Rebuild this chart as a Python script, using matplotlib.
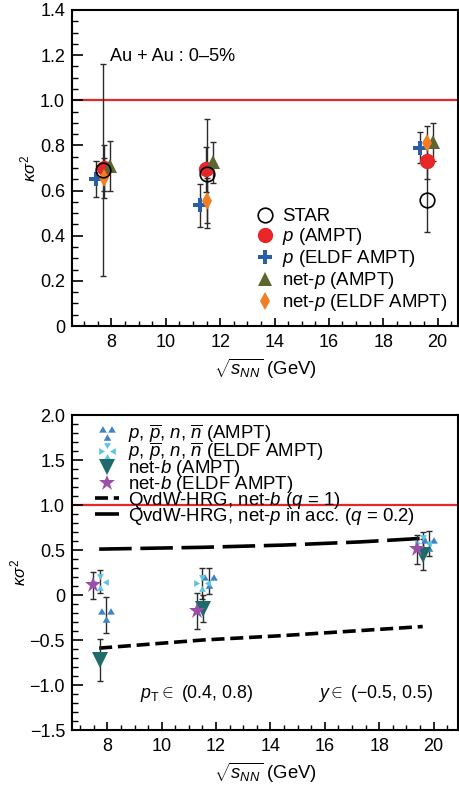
import matplotlib.pyplot as plt
import numpy as np
from matplotlib.path import Path
from matplotlib.ticker import MultipleLocator, FuncFormatter

plt.rcParams['font.family'] = ['Liberation Sans', 'DejaVu Sans']
plt.rcParams['mathtext.fontset'] = 'custom'
plt.rcParams['mathtext.rm'] = 'Liberation Sans'
plt.rcParams['mathtext.it'] = 'Liberation Sans:italic'
plt.rcParams['mathtext.bf'] = 'Liberation Sans:bold'

# ---- top panel: kappa sigma^2 of protons / net-protons ----
star_x = [7.7, 11.5, 19.6]
star_y = [0.69, 0.675, 0.56]
star_err = [0.47, 0.24, 0.145]

p_ampt_x = [7.72, 11.47, 19.6]
p_ampt_y = [0.70, 0.695, 0.73]
p_ampt_err = [0.10, 0.10, 0.08]

p_eldf_x = [7.45, 11.25, 19.36]
p_eldf_y = [0.65, 0.535, 0.79]
p_eldf_err = [0.08, 0.095, 0.07]

netp_ampt_x = [7.95, 11.74, 19.82]
netp_ampt_y = [0.71, 0.725, 0.815]
netp_ampt_err = [0.11, 0.09, 0.085]

netp_eldf_x = [7.72, 11.52, 19.6]
netp_eldf_y = [0.655, 0.555, 0.81]
netp_eldf_err = [0.09, 0.10, 0.075]

# ---- bottom panel: baryons / net-baryons ----
b_ampt_x = [7.94, 11.75, 19.84]
b_ampt_y = [-0.22, 0.155, 0.57]
b_ampt_err = [0.20, 0.14, 0.14]

b_eldf_x = [7.73, 11.5, 19.6]
b_eldf_y = [0.15, 0.13, 0.58]
b_eldf_err = [0.13, 0.17, 0.12]

netb_ampt_x = [7.72, 11.53, 19.6]
netb_ampt_y = [-0.72, -0.15, 0.45]
netb_ampt_err = [0.23, 0.15, 0.17]

netb_eldf_x = [7.47, 11.29, 19.4]
netb_eldf_y = [0.11, -0.175, 0.51]
netb_eldf_err = [0.15, 0.20, 0.16]

hrg_netb_x = [7.7, 11.5, 14.5, 19.6]
hrg_netb_y = [-0.59, -0.50, -0.45, -0.35]

hrg_netp_x = [7.7, 11.5, 14.5, 17.3, 19.6]
hrg_netp_y = [0.51, 0.53, 0.555, 0.59, 0.63]

RED = '#e8262a'
ERR = '#2b2b2b'


def triangle(cx, cy, s, direction):
    if direction == 'up':
        pts = [(cx - s, cy - s * 0.85), (cx + s, cy - s * 0.85), (cx, cy + s * 0.85)]
    elif direction == 'down':
        pts = [(cx - s, cy + s * 0.85), (cx + s, cy + s * 0.85), (cx, cy - s * 0.85)]
    elif direction == 'left':
        pts = [(cx + s * 0.85, cy - s), (cx + s * 0.85, cy + s), (cx - s * 0.85, cy)]
    else:
        pts = [(cx - s * 0.85, cy - s), (cx - s * 0.85, cy + s), (cx + s * 0.85, cy)]
    return pts


def cluster_marker(specs):
    verts, codes = [], []
    for cx, cy, s, d in specs:
        pts = triangle(cx, cy, s, d)
        verts += pts + [pts[0]]
        codes += [Path.MOVETO, Path.LINETO, Path.LINETO, Path.CLOSEPOLY]
    return Path(verts, codes)


ampt_cluster = cluster_marker([(-0.5, 0.45, 0.42, 'up'), (0.5, 0.45, 0.42, 'up'), (0.0, -0.45, 0.42, 'up')])
eldf_cluster = cluster_marker([(0.0, 0.6, 0.38, 'down'), (0.0, -0.6, 0.38, 'up'),
                               (-0.6, 0.0, 0.38, 'right'), (0.6, 0.0, 0.38, 'left')])


def ebar(ax, x, y, err, z=2):
    ax.errorbar(x, y, yerr=err, fmt='none', ecolor=ERR, elinewidth=1.0,
                capsize=2.2, capthick=1.0, zorder=z)


def style_axis(ax):
    for sp in ax.spines.values():
        sp.set_linewidth(1.5)
    ax.tick_params(which='both', direction='in', top=False, right=False, labelsize=13)
    ax.tick_params(axis='x', which='major', length=6, width=1.2, pad=6)
    ax.tick_params(axis='x', which='minor', length=3.5, width=1.0)
    ax.tick_params(axis='y', which='major', length=8, width=1.2, pad=5)
    ax.tick_params(axis='y', which='minor', length=4.5, width=1.0)
    ax.xaxis.set_major_locator(MultipleLocator(2))
    ax.xaxis.set_minor_locator(MultipleLocator(0.5))
    ax.set_xlabel(r'$\sqrt{s_{NN}}$ (GeV)', fontsize=13.3, labelpad=4)
    ax.set_ylabel(r'$\kappa\sigma^2$', fontsize=12, labelpad=1)


def yfmt(v, pos):
    if abs(v) < 1e-9:
        return '0'
    return ('%.1f' % v).replace('-', '\u2212')


fig = plt.figure(figsize=(4.6, 7.86), dpi=100)
ax1 = fig.add_axes([0.1565, 0.5852, 0.8392, 0.4021])
ax2 = fig.add_axes([0.1565, 0.0712, 0.8392, 0.4008])

# ---------- top ----------
ax1.axhline(1.0, color=RED, lw=1.6, zorder=1)
ebar(ax1, star_x, star_y, star_err)
ebar(ax1, p_ampt_x, p_ampt_y, p_ampt_err)
ebar(ax1, p_eldf_x, p_eldf_y, p_eldf_err)
ebar(ax1, netp_ampt_x, netp_ampt_y, netp_ampt_err)
ebar(ax1, netp_eldf_x, netp_eldf_y, netp_eldf_err)

ax1.plot(p_ampt_x, p_ampt_y, 'o', color=RED, ms=10, mec=RED, zorder=3, label=r'$p$ (AMPT)')
ax1.plot(star_x, star_y, 'o', mfc='none', mec='black', mew=1.2, ms=10.5, zorder=4, label='STAR')
ax1.plot(p_eldf_x, p_eldf_y, 'P', color='#2a5ea8', ms=10, mew=0, zorder=3, label=r'$p$ (ELDF AMPT)')
ax1.plot(netp_ampt_x, netp_ampt_y, '^', color='#5d6530', ms=10, mew=0, zorder=3, label=r'net-$p$ (AMPT)')
ax1.plot(netp_eldf_x, netp_eldf_y, 'd', color='#f07f22', ms=9, mew=0, zorder=3, label=r'net-$p$ (ELDF AMPT)')

ax1.text(7.94, 1.195, 'Au + Au : 0\u20135%', fontsize=13.1, va='center', ha='left')

ax1.set_xlim(6.55, 20.75)
ax1.set_ylim(0, 1.4)
ax1.yaxis.set_major_locator(MultipleLocator(0.2))
ax1.yaxis.set_minor_locator(MultipleLocator(0.05))
ax1.yaxis.set_major_formatter(FuncFormatter(yfmt))
style_axis(ax1)

h, l = ax1.get_legend_handles_labels()
order = [1, 0, 2, 3, 4]
ax1.legend([h[i] for i in order], [l[i] for i in order], loc='upper left',
           bbox_to_anchor=(0.475, 0.372), frameon=False, fontsize=13.4,
           handlelength=1.0, handletextpad=0.45, labelspacing=0.05, borderpad=0,
           borderaxespad=0)

# ---------- bottom ----------
ax2.axhline(1.0, color=RED, lw=1.6, zorder=1)
ax2.plot(hrg_netb_x, hrg_netb_y, color='black', lw=2.6, dashes=(3.6, 1.6), zorder=2,
         label=r'QvdW-HRG, net-$b$ ($q$ = 1)')
ax2.plot(hrg_netp_x, hrg_netp_y, color='black', lw=2.6, dashes=(9, 2.4), zorder=2,
         label=r'QvdW-HRG, net-$p$ in acc. ($q$ = 0.2)')

ebar(ax2, b_ampt_x, b_ampt_y, b_ampt_err, 3)
ebar(ax2, b_eldf_x, b_eldf_y, b_eldf_err, 3)
ebar(ax2, netb_ampt_x, netb_ampt_y, netb_ampt_err, 3)
ebar(ax2, netb_eldf_x, netb_eldf_y, netb_eldf_err, 3)

ax2.plot(b_ampt_x, b_ampt_y, ls='none', marker=ampt_cluster, color='#3d85c6', ms=12, mew=0, zorder=4,
         label=r'$p$, $\overline{p}$, $n$, $\overline{n}$ (AMPT)')
ax2.plot(b_eldf_x, b_eldf_y, ls='none', marker=eldf_cluster, color='#5cc6e0', ms=12, mew=0, zorder=4,
         label=r'$p$, $\overline{p}$, $n$, $\overline{n}$ (ELDF AMPT)')
ax2.plot(netb_ampt_x, netb_ampt_y, 'v', color='#1f6a6a', ms=11, mew=0, zorder=4, label=r'net-$b$ (AMPT)')
ax2.plot(netb_eldf_x, netb_eldf_y, '*', color='#9a50a8', ms=12, mew=0, zorder=4, label=r'net-$b$ (ELDF AMPT)')

ax2.text(9.2, -1.09, r'$p_{\mathrm{T}} \in$ (0.4, 0.8)', fontsize=12.8, va='center', ha='left')
ax2.text(15.75, -1.09, '$y \\in$ (\u22120.5, 0.5)', fontsize=12.8, va='center', ha='left')

ax2.set_xlim(6.7, 20.9)
ax2.set_ylim(-1.5, 2.0)
ax2.yaxis.set_major_locator(MultipleLocator(0.5))
ax2.yaxis.set_minor_locator(MultipleLocator(0.1))
ax2.yaxis.set_major_formatter(FuncFormatter(yfmt))
style_axis(ax2)

h, l = ax2.get_legend_handles_labels()
order = [2, 3, 4, 5, 0, 1]
ax2.legend([h[i] for i in order], [l[i] for i in order], loc='upper left',
           bbox_to_anchor=(0.06, 0.975), frameon=False, fontsize=13.4,
           handlelength=1.3, handletextpad=0.45, labelspacing=-0.27, borderpad=0,
           borderaxespad=0)

fig.savefig('out.png', dpi=100)
